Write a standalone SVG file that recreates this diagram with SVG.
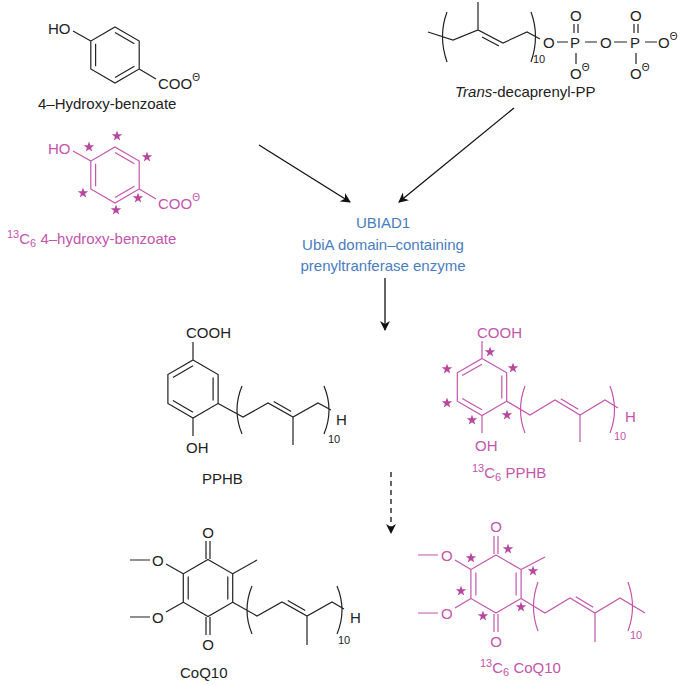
<svg xmlns="http://www.w3.org/2000/svg" width="683" height="685" viewBox="0 0 683 685">
<style>
text{font-family:"Liberation Sans",Arial,sans-serif;font-size:15px}
.k{stroke:#222;stroke-width:1.2;fill:none}
.p{stroke:#c455ad;stroke-width:1.2;fill:none}
.pt{fill:#c455ad}
.kt{fill:#222}
.b{fill:#4a7dc0;font-size:15px}
.s{font-size:10px}
.sub{font-size:11px}
</style>
<defs>
<path id="st" d="M0,-5.5 L1.29,-1.78 L5.23,-1.7 L2.09,0.68 L3.23,4.45 L0,2.2 L-3.23,4.45 L-2.09,0.68 L-5.23,-1.7 L-1.29,-1.78Z" fill="#b8479f"/>
<marker id="ah" viewBox="0 0 10 10" refX="9" refY="5" markerWidth="10" markerHeight="10" markerUnits="userSpaceOnUse" orient="auto"><path d="M0,0 L10,5 L0,10 L3,5Z" fill="#111"/></marker>
</defs>

<g id="hb">
<path class="k" d="M115,27 L139.2,41 L139.2,69 L115,83 L90.8,69 L90.8,41Z M115,32.6 L134.4,43.8 M134.4,66.2 L115,77.4 M95.6,66.2 L95.6,43.8 M90.8,41 L73,31 M139.2,69 L156,79"/>
<text x="48" y="34" class="kt">HO</text>
<text x="158" y="89" class="kt">COO<tspan class="s" dy="-8">Θ</tspan></text>
<text x="38" y="109" class="kt">4–Hydroxy-benzoate</text>
</g>

<g id="hb13">
<path class="p" d="M115,147 L139.2,161 L139.2,189 L115,203 L90.8,189 L90.8,161Z M115,152.6 L134.4,163.8 M134.4,186.2 L115,197.4 M95.6,186.2 L95.6,163.8 M90.8,161 L73,151 M139.2,189 L156,199"/>
<text x="48" y="154" class="pt">HO</text>
<text x="158" y="209" class="pt">COO<tspan class="s" dy="-8">Θ</tspan></text>
<use href="#st" x="89" y="147"/><use href="#st" x="117" y="136"/><use href="#st" x="147" y="157"/>
<use href="#st" x="138" y="198"/><use href="#st" x="116" y="210"/><use href="#st" x="83" y="193"/>
<text x="7" y="244" class="pt"><tspan class="sub" dy="-6">13</tspan><tspan dy="6">C</tspan><tspan class="sub" dy="3">6</tspan><tspan dy="-3"> 4–hydroxy-benzoate</tspan></text>
</g>

<g id="dpp">
<path class="k" d="M428,32 L453,40 L478,30 L503,43 L527,32 L540,39 M478,30 L478,2 M482,37 L499,46 M447,12 Q438,36 447,62 M531,12 Q540,36 531,62 M557,42 L568,42 M574,24 L574,33 M578,24 L578,33 M576,53 L576,64 M585,42 L597,42 M614,42 L627,42 M634,24 L634,33 M638,24 L638,33 M636,53 L636,64 M645,42 L657,42"/>
<text x="533" y="63" class="kt sub">10</text>
<text x="543" y="48" class="kt">O</text>
<text x="570" y="48" class="kt">P</text>
<text x="570" y="21" class="kt">O</text>
<text x="570" y="79" class="kt">O<tspan class="s" dy="-8">Θ</tspan></text>
<text x="600" y="48" class="kt">O</text>
<text x="630" y="48" class="kt">P</text>
<text x="630" y="21" class="kt">O</text>
<text x="630" y="79" class="kt">O<tspan class="s" dy="-8">Θ</tspan></text>
<text x="658" y="48" class="kt">O<tspan class="s" dy="-8">Θ</tspan></text>
<text x="455" y="97" class="kt"><tspan font-style="italic">Trans</tspan>-decaprenyl-PP</text>
</g>

<g id="enzyme">
<text x="383" y="228" class="b" text-anchor="middle">UBIAD1</text>
<text x="383" y="250" class="b" text-anchor="middle">UbiA domain–containing</text>
<text x="383" y="271" class="b" text-anchor="middle">prenyltranferase enzyme</text>
</g>

<g id="pphb">
<path class="k" d="M193,360 L218.1,374.5 L218.1,403.5 L193,418 L167.9,403.5 L167.9,374.5Z M193,365.8 L172.9,377.4 M213.1,377.4 L213.1,400.6 M172.9,400.6 L193,412.2 M193,360 L193,342 M193,418 L193,436 M218.1,403.5 L243,417 L268,403 L293,417 L318,403 L331,410 M273.7,401.6 L291.2,411.4 M293,417 L293,445 M242,386 Q232,410 242,434 M324,386 Q334,410 324,434"/>
<text x="186" y="338" class="kt">COOH</text>
<text x="186" y="453" class="kt">OH</text>
<text x="336" y="425" class="kt">H</text>
<text x="328" y="443" class="kt sub">10</text>
<text x="202" y="484" class="kt">PPHB</text>
</g>

<g id="pphb13">
<path class="p" d="M482,358.5 L506.7,372.75 L506.7,401.25 L482,415.5 L457.3,401.25 L457.3,372.75Z M482,364.2 L462.2,375.6 M501.8,375.6 L501.8,398.4 M462.2,398.4 L482,409.8 M482,358.5 L482,341 M482,415.5 L482,433 M506.7,401.25 L530,415 L555,400 L580,415 L605,400 L618,408 M560.75,398.75 L578.25,409.25 M580,415 L580,442 M525,386 Q516,410 525,433 M610,386 Q619,410 610,433"/>
<use href="#st" x="490" y="352"/><use href="#st" x="513" y="368"/><use href="#st" x="447" y="369"/>
<use href="#st" x="447" y="403"/><use href="#st" x="472" y="420"/><use href="#st" x="507" y="415"/>
<text x="477" y="338" class="pt">COOH</text>
<text x="475" y="451" class="pt">OH</text>
<text x="625" y="422" class="pt">H</text>
<text x="614" y="440" class="pt sub">10</text>
<text x="472" y="478" class="pt"><tspan class="sub" dy="-6">13</tspan><tspan dy="6">C</tspan><tspan class="sub" dy="3">6</tspan><tspan dy="-3"> PPHB</tspan></text>
</g>

<g id="coq10">
<path class="k" d="M208,559.5 L232.7,573.75 L232.7,602.25 L208,616.5 L183.3,602.25 L183.3,573.75Z M188.2,576.6 L188.2,599.4 M227.8,576.6 L227.8,599.4 M206,541 L206,559 M210,541 L210,559 M206,617 L206,635 M210,617 L210,635 M232.7,573.75 L257,560 M183.3,573.75 L166,564 M130,560 L150,560 M183.3,602.25 L166,612 M130,617 L150,617 M232.7,602.25 L257,616 L282,602 L307,616 L332,602 L344,609 M287.75,600.6 L305.25,610.4 M307,616 L307,645 M252,586 Q242,610 252,634 M337,586 Q347,610 337,634"/>
<text x="208" y="538" class="kt" text-anchor="middle">O</text>
<text x="208" y="650" class="kt" text-anchor="middle">O</text>
<text x="152" y="566" class="kt">O</text>
<text x="152" y="623" class="kt">O</text>
<text x="350" y="623" class="kt">H</text>
<text x="338" y="644" class="kt sub">10</text>
<text x="180" y="678" class="kt">CoQ10</text>
</g>

<g id="coq1013">
<path class="p" d="M496,555 L521.1,569.5 L521.1,598.5 L496,613 L470.9,598.5 L470.9,569.5Z M475.9,572.4 L475.9,595.6 M516.1,572.4 L516.1,595.6 M494,536 L494,554 M498,536 L498,554 M494,614 L494,632 M498,614 L498,632 M521.1,569.5 L545,557 M470.9,569.5 L455,560 M418,555 L438,555 M470.9,598.5 L455,608 M418,613 L438,613 M521.1,598.5 L545,613 L570,598 L595,613 L620,598 L645,613 M575.75,596.75 L593.25,607.25 M595,613 L595,642 M538,582 Q529,607 538,631 M628,582 Q637,607 628,631"/>
<use href="#st" x="471" y="558"/><use href="#st" x="508" y="549"/><use href="#st" x="533" y="571"/>
<use href="#st" x="461" y="591"/><use href="#st" x="483" y="616"/><use href="#st" x="521" y="607"/>
<text x="496" y="532" class="pt" text-anchor="middle">O</text>
<text x="496" y="647" class="pt" text-anchor="middle">O</text>
<text x="441" y="561" class="pt">O</text>
<text x="441" y="619" class="pt">O</text>
<text x="630" y="639" class="pt sub">10</text>
<text x="480" y="673" class="pt"><tspan class="sub" dy="-6">13</tspan><tspan dy="6">C</tspan><tspan class="sub" dy="3">6</tspan><tspan dy="-3"> CoQ10</tspan></text>
</g>

<g id="connectors" stroke="#111" stroke-width="1.3" fill="none">
<path d="M259,145 L350,202" marker-end="url(#ah)"/>
<path d="M514,108 L399,202" marker-end="url(#ah)"/>
<path d="M385,278 L385,330" marker-end="url(#ah)"/>
<path d="M391,472 L391,533" stroke-dasharray="5,4" marker-end="url(#ah)"/>
</g>
</svg>
